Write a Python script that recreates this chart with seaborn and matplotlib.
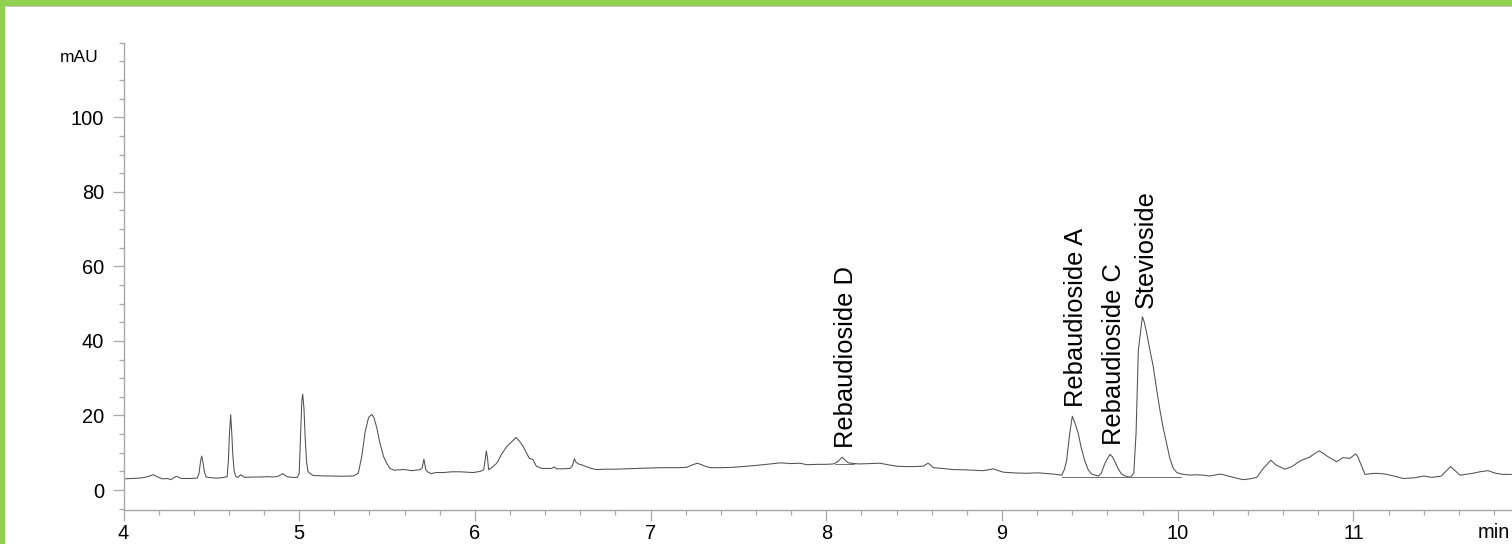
import numpy as np
import pandas as pd
import matplotlib
matplotlib.use("Agg")
import matplotlib.pyplot as plt
from matplotlib.ticker import MultipleLocator, FixedLocator
from matplotlib.patches import Rectangle
import seaborn as sns

# ---------------- data ----------------
time_min = [
    4.00, 4.05, 4.09, 4.13, 4.17, 4.20, 4.22, 4.25, 4.27, 4.30, 4.33, 4.38, 4.42,
    4.43, 4.438, 4.445, 4.452, 4.46, 4.47, 4.50, 4.53, 4.56, 4.59, 4.597, 4.603,
    4.61, 4.616, 4.622, 4.63, 4.64, 4.65, 4.667, 4.69, 4.74, 4.78, 4.82, 4.85,
    4.88, 4.906, 4.93, 4.96, 4.99, 5.00, 5.008, 5.015, 5.02, 5.027, 5.034, 5.042,
    5.05, 5.06, 5.08, 5.13, 5.19, 5.25, 5.31, 5.336, 5.356, 5.375, 5.395, 5.413,
    5.425, 5.44, 5.46, 5.48, 5.50, 5.517, 5.54, 5.555, 5.60, 5.64, 5.69, 5.70,
    5.71, 5.72, 5.73, 5.75, 5.78, 5.82, 5.87, 5.915, 5.95, 5.99, 6.03, 6.05,
    6.058, 6.065, 6.072, 6.078, 6.09, 6.105, 6.12, 6.13, 6.15, 6.18, 6.21, 6.234,
    6.255, 6.276, 6.295, 6.31, 6.33, 6.35, 6.38, 6.41, 6.437, 6.45, 6.465, 6.50,
    6.54, 6.555, 6.566, 6.575, 6.59, 6.617, 6.655, 6.69, 6.75, 6.80, 6.86, 6.92,
    6.98, 7.05, 7.11, 7.16, 7.205, 7.235, 7.266, 7.29, 7.31, 7.34, 7.40, 7.47,
    7.55, 7.62, 7.68, 7.74, 7.80, 7.85, 7.89, 7.95, 8.00, 8.04, 8.065, 8.09,
    8.11, 8.125, 8.16, 8.19, 8.25, 8.305, 8.35, 8.40, 8.45, 8.495, 8.55, 8.58,
    8.61, 8.66, 8.72, 8.80, 8.89, 8.92, 8.95, 8.98, 9.007, 9.07, 9.14, 9.19,
    9.216, 9.235, 9.29, 9.34, 9.355, 9.368, 9.385, 9.40, 9.415, 9.434, 9.45,
    9.47, 9.49, 9.51, 9.548, 9.565, 9.586, 9.615, 9.63, 9.643, 9.66, 9.68, 9.70,
    9.73, 9.75, 9.763, 9.776, 9.799, 9.81, 9.824, 9.84, 9.861, 9.88, 9.899,
    9.918, 9.937, 9.955, 9.975, 9.995, 10.02, 10.07, 10.10, 10.146, 10.18,
    10.21, 10.24, 10.27, 10.30, 10.37, 10.41, 10.45, 10.487, 10.53, 10.56,
    10.61, 10.65, 10.70, 10.75, 10.78, 10.806, 10.83, 10.857, 10.905, 10.94,
    10.98, 11.013, 11.025, 11.04, 11.066, 11.10, 11.13, 11.18, 11.227, 11.284,
    11.35, 11.40, 11.446, 11.50, 11.553, 11.607, 11.68, 11.72, 11.766, 11.81,
    11.85, 11.90,
]
absorbance_mau = [
    3.0, 3.1, 3.2, 3.5, 4.1, 3.4, 3.0, 3.1, 2.8, 3.7, 3.1, 3.1, 3.2,
    4.5, 7.5, 9.1, 7.5, 5.0, 3.5, 3.3, 3.2, 3.3, 3.6, 8.0, 15.0,
    20.2, 15.5, 9.5, 5.0, 3.6, 3.4, 4.1, 3.4, 3.5, 3.5, 3.6, 3.5,
    3.7, 4.4, 3.6, 3.4, 3.4, 4.5, 15.0, 24.0, 25.7, 22.0, 14.0, 7.5,
    5.0, 4.5, 3.9, 3.8, 3.75, 3.7, 3.8, 4.5, 9.0, 15.5, 19.5, 20.3,
    19.5, 17.0, 12.5, 9.0, 7.0, 5.8, 5.3, 5.4, 5.5, 5.2, 5.5, 6.0,
    8.3, 5.5, 4.9, 4.4, 4.7, 4.7, 4.9, 4.9, 4.8, 4.7, 5.0, 5.4,
    8.0, 10.5, 8.5, 5.5, 5.8, 6.4, 7.0, 7.6, 9.5, 11.6, 13.0, 14.1,
    13.0, 11.6, 9.8, 8.5, 8.2, 6.4, 5.8, 5.8, 5.8, 6.2, 5.7, 5.7,
    5.8, 6.5, 8.4, 7.5, 7.0, 6.6, 5.9, 5.5, 5.6, 5.6, 5.7, 5.8,
    5.9, 6.0, 6.0, 6.0, 6.1, 6.7, 7.2, 6.8, 6.4, 6.0, 6.0, 6.1,
    6.4, 6.7, 7.0, 7.3, 7.1, 7.2, 6.8, 6.9, 6.9, 7.0, 7.6, 8.8,
    7.9, 7.3, 7.1, 7.0, 7.1, 7.2, 6.8, 6.4, 6.3, 6.3, 6.4, 7.2,
    6.0, 5.8, 5.5, 5.4, 5.2, 5.4, 5.7, 5.2, 4.8, 4.6, 4.5, 4.6,
    4.6, 4.5, 4.3, 4.0, 5.5, 8.0, 15.0, 19.8, 18.0, 15.2, 11.5,
    8.0, 5.5, 4.3, 3.75, 4.5, 7.2, 9.6, 8.8, 7.6, 5.8, 4.3, 3.8,
    3.4, 4.5, 15.2, 37.5, 46.5, 45.0, 42.0, 38.0, 33.1, 27.0, 21.4,
    16.5, 12.5, 8.5, 5.8, 4.7, 4.3, 4.0, 4.1, 4.0, 3.75,
    4.0, 4.3, 4.0, 3.6, 2.8, 3.0, 3.4, 5.8, 8.0, 6.7,
    5.6, 6.3, 7.9, 8.8, 9.8, 10.5, 9.8, 8.9, 7.6, 8.7,
    8.5, 9.7, 9.0, 7.2, 4.2, 4.4, 4.5, 4.3, 3.8, 3.1,
    3.3, 3.75, 3.4, 3.75, 6.3, 4.0, 4.5, 4.9, 5.2, 4.5,
    4.2, 4.2,
]

# identified peaks
peak_names = ["Rebaudioside D", "Rebaudioside A", "Rebaudioside C", "Stevioside"]
peak_times = [8.09, 9.40, 9.615, 9.799]

# integration baselines (start time, end time, level)
baseline_start = [8.05, 9.34]
baseline_end = [8.16, 10.02]
baseline_level = [7.0, 3.6]

x_major_ticks = [4, 5, 6, 7, 8, 9, 10, 11]
y_major_ticks = [0, 20, 40, 60, 80, 100]

# ---------------- styling ----------------
sns.set_theme(style="white")
plt.rcParams["font.family"] = ["Liberation Sans", "DejaVu Sans"]

W, H = 1512, 544
fig = plt.figure(figsize=(W / 100, H / 100), dpi=100)
ax_left, ax_right, ax_top, ax_bottom = 123.5, 1512, 42.7, 510
ax = fig.add_axes([ax_left / W, (H - ax_bottom) / H,
                   (ax_right - ax_left) / W, (ax_bottom - ax_top) / H])

df = pd.DataFrame({"time": time_min, "mAU": absorbance_mau})
sns.lineplot(data=df, x="time", y="mAU", ax=ax, estimator=None, sort=False,
             color="#505050", linewidth=0.75)

for s, e, lv in zip(baseline_start, baseline_end, baseline_level):
    sns.lineplot(x=[s, e], y=[lv, lv], ax=ax, estimator=None, sort=False,
                 color="#707070", linewidth=0.7)

t_arr = np.asarray(time_min)
a_arr = np.asarray(absorbance_mau)
for name, rt in zip(peak_names, peak_times):
    apex = a_arr[np.abs(t_arr - rt) < 0.03].max()
    ax.annotate(name, xy=(rt, apex), xytext=(3.5, 9), textcoords="offset pixels",
                rotation=90, ha="center", va="bottom", fontsize=18.4,
                color="black")

ax.set_xlim(4, 4 + (ax_right - ax_left) / 175.7)
ax.set_ylim(-5.35, 120)

ax.xaxis.set_major_locator(FixedLocator(x_major_ticks))
ax.xaxis.set_minor_locator(MultipleLocator(0.2))
ax.yaxis.set_major_locator(FixedLocator(y_major_ticks))
ax.yaxis.set_minor_locator(MultipleLocator(5))
ax.set_xticklabels([str(v) for v in x_major_ticks])
ax.set_yticklabels([str(v) for v in y_major_ticks])

spine_col = "#a8a8a8"
for side in ["top", "right"]:
    ax.spines[side].set_visible(False)
for side in ["left", "bottom"]:
    ax.spines[side].set_color(spine_col)
    ax.spines[side].set_linewidth(1.0)

ax.tick_params(axis="both", which="major", direction="out", length=8,
               width=0.9, color=spine_col, labelsize=14.4, labelcolor="black")
ax.tick_params(axis="both", which="minor", direction="out", length=3.6,
               width=0.9, color=spine_col)
ax.tick_params(axis="y", which="major", pad=6)
ax.tick_params(axis="x", which="major", pad=2)
ax.tick_params(axis="both", which="both", bottom=True, left=True)

ax.set_xlabel("")
ax.set_ylabel("")
ax.grid(False)

# unit labels
ax.annotate("mAU", xy=(0, 116), xycoords=("axes fraction", "data"),
            xytext=(-24.5, 0), textcoords="offset pixels",
            ha="right", va="center", fontsize=12.5, color="black")
ax.annotate("min", xy=(1.0, 0), xycoords="axes fraction",
            xytext=(-2, -13), textcoords="offset pixels",
            ha="right", va="top", fontsize=14.4, color="black",
            annotation_clip=False)

# green frame of the original slide
green = "#92d050"
fig.patches.append(Rectangle((0, 1 - 6 / H), 1, 6 / H, transform=fig.transFigure,
                             facecolor=green, edgecolor="none", zorder=10))
fig.patches.append(Rectangle((0, 1 - 7.3 / H), 1, 1.3 / H, transform=fig.transFigure,
                             facecolor="#c8c8c8", edgecolor="none", zorder=9))
fig.patches.append(Rectangle((0, 0), 5.3 / W, 1, transform=fig.transFigure,
                             facecolor=green, edgecolor="none", zorder=10))

fig.savefig("out.png", dpi=100)
